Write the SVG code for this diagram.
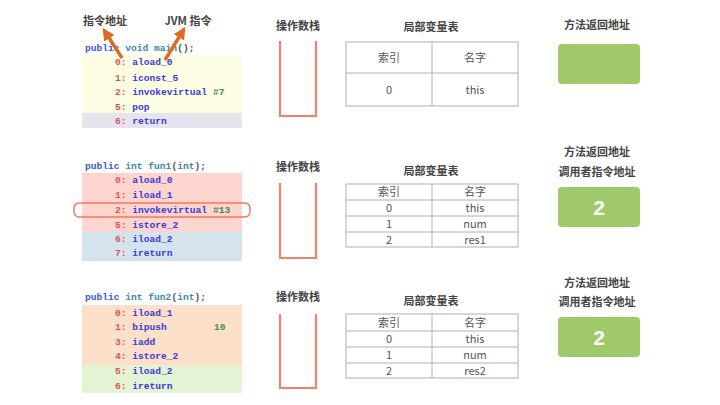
<svg xmlns="http://www.w3.org/2000/svg" width="720" height="405" viewBox="0 0 720 405">
<defs>
<marker id="ah" viewBox="0 0 10 10" refX="8" refY="5" markerWidth="3.6" markerHeight="3.8" orient="auto" markerUnits="strokeWidth">
<path d="M0,0 L10,5 L0,10 z" fill="#E06A1E"/>
</marker>
<style>
.lbl{font-family:"Noto Sans CJK SC","Liberation Sans",sans-serif;font-size:11px;font-weight:bold;fill:#444;text-anchor:middle}
.tt{font-family:"Noto Sans CJK SC","Liberation Sans",sans-serif;font-size:11px;fill:#555;text-anchor:middle}
.code{font-family:"Liberation Mono","DejaVu Sans Mono",monospace;font-size:9.6px;font-weight:bold}
.num{fill:#D9534F}
.ins{fill:#3A3ADA}
.cst{fill:#3C8C50}
.kw{fill:#3B57D8}
.ty{fill:#3A8A9E}
.pn{fill:#555}
.stack{fill:none;stroke:#F4826A;stroke-width:2.2}
.tbl{fill:none;stroke:#B0B0B0;stroke-width:1}
.ret{fill:#A0C96A}
.two{font-family:"Liberation Sans",sans-serif;font-size:21px;font-weight:bold;fill:#fff;text-anchor:middle}
.arr{stroke:#E06A1E;stroke-width:3.4;fill:none}
</style>
</defs>

<g id="code-main">
<rect x="82" y="55" width="160" height="58" fill="#FDFDE4"/>
<rect x="82" y="113" width="160" height="15" fill="#E6E4EF"/>
<text class="code" x="85" y="51"><tspan class="kw">public</tspan> <tspan class="ty">void main</tspan><tspan class="pn">();</tspan></text>
<text class="code" x="115" y="65"><tspan class="num">0:</tspan> <tspan class="ins">aload_0</tspan></text>
<text class="code" x="115" y="81"><tspan class="num">1:</tspan> <tspan class="ins">iconst_5</tspan></text>
<text class="code" x="115" y="95"><tspan class="num">2:</tspan> <tspan class="ins">invokevirtual</tspan> <tspan class="cst">#7</tspan></text>
<text class="code" x="115" y="110"><tspan class="num">5:</tspan> <tspan class="ins">pop</tspan></text>
<text class="code" x="115" y="124"><tspan class="num">6:</tspan> <tspan class="ins">return</tspan></text>
</g>

<g id="labels-top">
<text class="lbl" x="105" y="25">指令地址</text>
<text class="lbl" x="188" y="25">JVM 指令</text>
</g>

<g id="connectors">
<line class="arr" x1="122" y1="58" x2="104" y2="30" marker-end="url(#ah)"/>
<line class="arr" x1="165" y1="60" x2="184" y2="29" marker-end="url(#ah)"/>
</g>

<g id="code-fun1">
<rect x="82" y="173" width="160" height="59" fill="#FDD5CE"/>
<rect x="82" y="232" width="160" height="29" fill="#D4E3EE"/>
<text class="code" x="85" y="169"><tspan class="kw">public</tspan> <tspan class="ty">int fun1</tspan><tspan class="pn">(</tspan><tspan class="ty">int</tspan><tspan class="pn">);</tspan></text>
<text class="code" x="115" y="183"><tspan class="num">0:</tspan> <tspan class="ins">aload_0</tspan></text>
<text class="code" x="115" y="198"><tspan class="num">1:</tspan> <tspan class="ins">iload_1</tspan></text>
<text class="code" x="115" y="213"><tspan class="num">2:</tspan> <tspan class="ins">invokevirtual</tspan> <tspan class="cst">#13</tspan></text>
<text class="code" x="115" y="228"><tspan class="num">5:</tspan> <tspan class="ins">istore_2</tspan></text>
<text class="code" x="115" y="242"><tspan class="num">6:</tspan> <tspan class="ins">iload_2</tspan></text>
<text class="code" x="115" y="256"><tspan class="num">7:</tspan> <tspan class="ins">ireturn</tspan></text>
<rect x="74" y="203" width="176" height="14" rx="5" fill="none" stroke="#F07A5A" stroke-width="1.5"/>
</g>

<g id="code-fun2">
<rect x="82" y="305" width="160" height="60" fill="#FDE0C9"/>
<rect x="82" y="365" width="160" height="28" fill="#E4F3D3"/>
<text class="code" x="85" y="300"><tspan class="kw">public</tspan> <tspan class="ty">int fun2</tspan><tspan class="pn">(</tspan><tspan class="ty">int</tspan><tspan class="pn">);</tspan></text>
<text class="code" x="115" y="316"><tspan class="num">0:</tspan> <tspan class="ins">iload_1</tspan></text>
<text class="code" x="115" y="330"><tspan class="num">1:</tspan> <tspan class="ins">bipush</tspan></text>
<text class="code cst" x="214" y="330">10</text>
<text class="code" x="115" y="345"><tspan class="num">3:</tspan> <tspan class="ins">iadd</tspan></text>
<text class="code" x="115" y="359"><tspan class="num">4:</tspan> <tspan class="ins">istore_2</tspan></text>
<text class="code" x="115" y="374"><tspan class="num">5:</tspan> <tspan class="ins">iload_2</tspan></text>
<text class="code" x="115" y="389"><tspan class="num">6:</tspan> <tspan class="ins">ireturn</tspan></text>
</g>

<g id="stack-1">
<text class="lbl" x="298" y="30">操作数栈</text>
<path class="stack" d="M280,41 V116 H316 V41"/>
</g>
<g id="stack-2">
<text class="lbl" x="298" y="171">操作数栈</text>
<path class="stack" d="M280,183 V258 H316 V183"/>
</g>
<g id="stack-3">
<text class="lbl" x="298" y="301">操作数栈</text>
<path class="stack" d="M280,314 V388 H316 V314"/>
</g>

<g id="locals-1">
<text class="lbl" x="431" y="31">局部变量表</text>
<rect class="tbl" x="346" y="42" width="172" height="64"/>
<line class="tbl" x1="432" y1="42" x2="432" y2="106"/>
<line class="tbl" x1="346" y1="73" x2="518" y2="73"/>
<text class="tt" x="389" y="62">索引</text>
<text class="tt" x="475" y="62">名字</text>
<text class="tt" x="389" y="94">0</text>
<text class="tt" x="475" y="94">this</text>
</g>

<g id="locals-2">
<text class="lbl" x="431" y="175">局部变量表</text>
<rect class="tbl" x="346" y="184" width="172" height="63"/>
<line class="tbl" x1="432" y1="184" x2="432" y2="247"/>
<line class="tbl" x1="346" y1="200" x2="518" y2="200"/>
<line class="tbl" x1="346" y1="216" x2="518" y2="216"/>
<line class="tbl" x1="346" y1="232" x2="518" y2="232"/>
<text class="tt" x="389" y="196">索引</text>
<text class="tt" x="475" y="196">名字</text>
<text class="tt" x="389" y="212">0</text>
<text class="tt" x="475" y="212">this</text>
<text class="tt" x="389" y="228">1</text>
<text class="tt" x="475" y="228">num</text>
<text class="tt" x="389" y="244">2</text>
<text class="tt" x="475" y="244">res1</text>
</g>

<g id="locals-3">
<text class="lbl" x="431" y="305">局部变量表</text>
<rect class="tbl" x="346" y="314" width="172" height="64"/>
<line class="tbl" x1="432" y1="314" x2="432" y2="378"/>
<line class="tbl" x1="346" y1="331" x2="518" y2="331"/>
<line class="tbl" x1="346" y1="347" x2="518" y2="347"/>
<line class="tbl" x1="346" y1="363" x2="518" y2="363"/>
<text class="tt" x="389" y="327">索引</text>
<text class="tt" x="475" y="327">名字</text>
<text class="tt" x="389" y="343">0</text>
<text class="tt" x="475" y="343">this</text>
<text class="tt" x="389" y="359">1</text>
<text class="tt" x="475" y="359">num</text>
<text class="tt" x="389" y="375">2</text>
<text class="tt" x="475" y="375">res2</text>
</g>

<g id="ret-1">
<text class="lbl" x="597" y="29">方法返回地址</text>
<rect class="ret" x="558" y="44" width="82" height="40" rx="4"/>
</g>
<g id="ret-2">
<text class="lbl" x="597" y="156">方法返回地址</text>
<text class="lbl" x="597" y="176">调用者指令地址</text>
<rect class="ret" x="558" y="187" width="82" height="40" rx="4"/>
<text class="two" x="599" y="215">2</text>
</g>
<g id="ret-3">
<text class="lbl" x="597" y="287">方法返回地址</text>
<text class="lbl" x="597" y="306">调用者指令地址</text>
<rect class="ret" x="558" y="317" width="82" height="40" rx="4"/>
<text class="two" x="599" y="345">2</text>
</g>
</svg>
